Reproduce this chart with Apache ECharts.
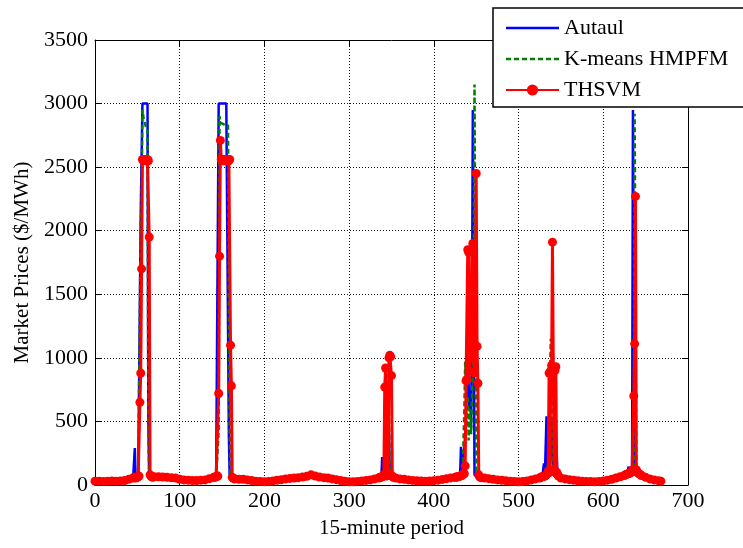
<!DOCTYPE html>
<html>
<head>
<meta charset="utf-8">
<script src="https://cdn.jsdelivr.net/npm/echarts@6/dist/echarts.min.js"></script>
<style>
  html, body { margin: 0; padding: 0; background: #fff; }
  #chart { width: 743px; height: 548px; }
</style>
</head>
<body>
<div id="chart"></div>
<script>
// 15-minute periods (sampled coarsely on the flat stretches, every period around the spikes)
const periods = [
  0,5,10,15,20,25,30,35,40,45,
  46,47,48,49,50,51,52,53,54,55,56,57,58,59,60,61,62,63,64,65,66,67,68,
  70,75,80,85,90,95,100,105,110,115,120,125,130,135,140,
  141,142,143,144,145,146,147,148,149,150,151,152,153,154,155,156,157,158,159,160,161,162,163,164,165,
  170,175,180,185,190,195,200,205,210,215,220,225,230,235,240,245,250,255,260,265,270,275,280,285,290,295,300,305,310,315,320,325,330,335,
  336,337,338,339,340,341,342,343,344,345,346,347,348,349,350,351,352,
  355,360,365,370,375,380,385,390,395,400,405,410,415,420,425,
  426,427,428,429,430,431,432,433,434,435,436,437,438,439,440,441,442,443,444,445,446,447,448,449,450,451,452,453,454,455,456,
  460,465,470,475,480,485,490,495,500,505,510,515,520,525,
  526,527,528,529,530,531,532,533,534,535,536,537,538,539,540,541,542,543,544,545,546,547,
  550,555,560,565,570,575,580,585,590,595,600,605,610,615,620,625,
  626,627,628,629,630,631,632,633,634,635,636,637,638,639,640,641,642,643,644,645,
  650,655,660,665,668
];

// Actual market price ($/MWh)
const actual = [
  28,29,27,31,30,29,33,36,42,50,
  50,290,50,45,45,50,60,60,2150,2150,3000,3000,3000,3000,3000,3000,3000,500,50,45,45,45,45,
  62,63,60,58,55,52,44,39,36,34,33,36,39,48,58,
  55,60,65,70,80,3000,3000,3000,3000,3000,3000,3000,3000,3000,3000,3000,3000,400,50,45,45,45,45,45,45,
  44,43,39,34,29,27,25,27,31,36,41,46,50,54,57,60,66,78,68,60,56,53,46,40,34,29,25,25,27,31,35,39,46,53,
  55,55,60,220,60,60,65,70,80,300,620,400,70,60,55,55,55,
  53,46,43,39,35,32,30,29,30,33,37,43,49,54,58,
  60,62,65,68,70,75,300,300,80,85,90,400,500,900,1280,800,600,700,450,1300,2950,2950,80,70,65,60,60,58,57,56,55,
  53,48,44,39,36,33,29,27,25,26,31,39,47,54,
  57,58,60,62,170,60,62,540,70,75,80,300,400,500,200,80,75,70,65,250,62,58,
  53,46,41,37,32,29,27,26,25,27,31,37,44,53,63,72,
  75,78,80,85,145,85,90,95,100,2950,2950,120,100,95,90,88,85,80,75,70,
  58,46,39,33,29
];

// K-means HMPFM forecast ($/MWh)
const kmeans = [
  29,30,28,30,31,30,32,34,44,52,
  50,55,50,50,50,55,60,60,2100,2150,2950,2900,2870,2840,2820,2810,2800,400,60,50,50,50,50,
  64,64,61,59,57,54,45,40,37,35,34,37,40,49,59,
  55,60,60,65,70,430,2900,2850,2850,2850,2840,2840,2830,2830,2830,2830,2830,2830,430,50,45,45,45,45,45,
  45,44,40,35,30,28,26,28,32,37,42,47,51,55,58,61,67,79,69,61,57,54,47,41,35,30,26,26,28,32,36,40,47,54,
  55,55,58,60,62,65,70,680,750,700,820,650,80,60,55,55,55,
  54,47,44,40,36,33,31,30,31,34,38,44,50,55,59,
  60,62,65,68,70,72,75,80,85,90,600,970,800,450,700,350,600,500,400,700,900,1500,3150,3150,80,65,60,58,57,56,55,
  54,49,45,40,37,34,30,28,26,27,32,40,48,55,
  57,58,60,62,65,68,70,75,80,200,500,800,1150,700,300,80,75,70,65,62,60,58,
  54,47,42,38,33,30,28,27,26,28,32,38,45,54,64,74,
  75,78,80,82,85,88,90,95,100,110,150,2920,2920,100,95,90,85,80,75,70,
  59,47,40,34,30
];

// THSVM forecast ($/MWh)
const thsvm = [
  30,30,28,30,32,30,32,35,45,55,
  60,60,55,60,60,65,70,650,880,1700,2560,2550,2560,2550,2560,2550,2560,2550,1950,80,70,65,60,
  65,65,62,60,58,55,45,40,38,35,35,38,40,50,60,
  60,62,65,70,70,720,1800,2710,2560,2550,2560,2550,2560,2550,2560,2550,2560,2550,2560,1100,780,60,55,50,48,
  45,45,40,35,30,28,26,28,32,38,42,48,52,55,58,62,68,80,70,62,58,55,48,42,35,30,26,26,28,32,36,40,48,55,
  60,60,62,65,70,80,770,920,70,80,90,1000,1020,1010,860,70,60,
  55,48,45,40,36,33,31,30,31,34,38,44,50,56,60,
  60,62,64,66,68,70,72,75,80,85,90,150,820,830,1850,1830,900,1200,1000,1850,1900,1000,880,1100,2450,1090,800,80,65,60,58,
  55,50,45,40,37,34,30,28,26,27,32,40,48,55,
  60,62,64,66,68,70,75,80,90,110,880,100,900,940,1910,920,120,900,930,100,85,70,
  55,48,42,38,33,30,28,27,26,28,32,38,45,55,65,75,
  80,82,85,88,90,92,95,100,110,120,700,1110,2270,120,100,95,90,85,80,75,
  60,48,40,34,30
];

const seriesNames = ['Autaul', 'K-means HMPFM', 'THSVM'];
const xTitle = '15-minute period';
const yTitle = 'Market Prices ($/MWh)';

[actual, kmeans, thsvm].forEach(function (arr, i) {
  if (arr.length !== periods.length) console.warn(seriesNames[i] + ' length ' + arr.length + ' vs ' + periods.length);
});

function pairs(values) {
  return periods.map(function (p, i) { return [p, values[i]]; });
}

// Legend glyphs drawn in a 53x14 box: a solid bar and a dashed bar
// (the two tiny squares at top/bottom only pin the box height).
const PIN = 'M26,0h0.01v0.01h-0.01z M26,13.99h0.01v0.01h-0.01z ';
const solidIcon = 'path://' + PIN + 'M0,5.75h53v2.5h-53z';
let dashed = 'path://' + PIN;
for (let x = 0; x < 53; x += 8) {
  const w = Math.min(5, 53 - x);
  dashed += 'M' + x + ',5.75h' + w + 'v2.5h-' + w + 'z ';
}

const FONT = 'Liberation Serif, Times New Roman, serif';
const gridLine = { show: true, lineStyle: { color: '#111', width: 1, type: [1, 2] } };
const plain = function (v) { return String(v); };

const chart = echarts.init(document.getElementById('chart'), null, { renderer: 'canvas' });

chart.setOption({
  animation: false,
  backgroundColor: '#fff',
  grid: { left: 95, right: 55, top: 40, bottom: 63, containLabel: false },
  xAxis: [
    {
      type: 'value', min: 0, max: 700, interval: 100, position: 'bottom',
      name: xTitle, nameLocation: 'middle', nameGap: 33,
      nameTextStyle: { fontFamily: FONT, fontSize: 21, color: '#000' },
      axisLine: { show: true, onZero: false, lineStyle: { color: '#000', width: 1 } },
      axisTick: { show: true, inside: true, length: 6, lineStyle: { color: '#000' } },
      axisLabel: { fontFamily: FONT, fontSize: 22, color: '#000', margin: 5, formatter: plain },
      splitLine: gridLine
    },
    {
      type: 'value', min: 0, max: 700, interval: 100, position: 'top',
      axisLine: { show: true, onZero: false, lineStyle: { color: '#000', width: 1 } },
      axisTick: { show: true, inside: true, length: 6, lineStyle: { color: '#000' } },
      axisLabel: { show: false },
      splitLine: { show: false }
    }
  ],
  yAxis: [
    {
      type: 'value', min: 0, max: 3500, interval: 500, position: 'left',
      name: yTitle, nameLocation: 'middle', nameGap: 59, nameRotate: 90,
      nameTextStyle: { fontFamily: FONT, fontSize: 21, color: '#000' },
      axisLine: { show: true, onZero: false, lineStyle: { color: '#000', width: 1 } },
      axisTick: { show: true, inside: true, length: 6, lineStyle: { color: '#000' } },
      axisLabel: { fontFamily: FONT, fontSize: 22, color: '#000', margin: 7, formatter: plain },
      splitLine: gridLine
    },
    {
      type: 'value', min: 0, max: 3500, interval: 500, position: 'right',
      axisLine: { show: true, onZero: false, lineStyle: { color: '#000', width: 1 } },
      axisTick: { show: true, inside: true, length: 6, lineStyle: { color: '#000' } },
      axisLabel: { show: false },
      splitLine: { show: false }
    }
  ],
  legend: {
    orient: 'vertical',
    left: 493, top: 8,
    padding: [9, 30, 6, 12],
    itemGap: 9,
    itemWidth: 53, itemHeight: 14,
    backgroundColor: '#fff',
    borderColor: '#000', borderWidth: 1.5, borderRadius: 0,
    textStyle: { fontFamily: FONT, fontSize: 22, color: '#000' },
    data: [
      { name: seriesNames[0], icon: solidIcon },
      { name: seriesNames[1], icon: dashed },
      { name: seriesNames[2] }
    ],
    z: 10
  },
  series: [
    {
      name: seriesNames[0], type: 'line', data: pairs(actual),
      symbol: 'none', lineStyle: { color: '#0000ff', width: 2.5 },
      itemStyle: { color: '#0000ff' }, z: 2
    },
    {
      name: seriesNames[1], type: 'line', data: pairs(kmeans),
      symbol: 'none', lineStyle: { color: '#008000', width: 2.5, type: [5, 3] },
      itemStyle: { color: '#008000' }, z: 3
    },
    {
      name: seriesNames[2], type: 'line', data: pairs(thsvm),
      symbol: 'circle', symbolSize: 9, showSymbol: true,
      lineStyle: { color: '#ff0000', width: 3 },
      itemStyle: { color: '#ff0000' }, z: 4
    }
  ]
});
</script>
</body>
</html>
